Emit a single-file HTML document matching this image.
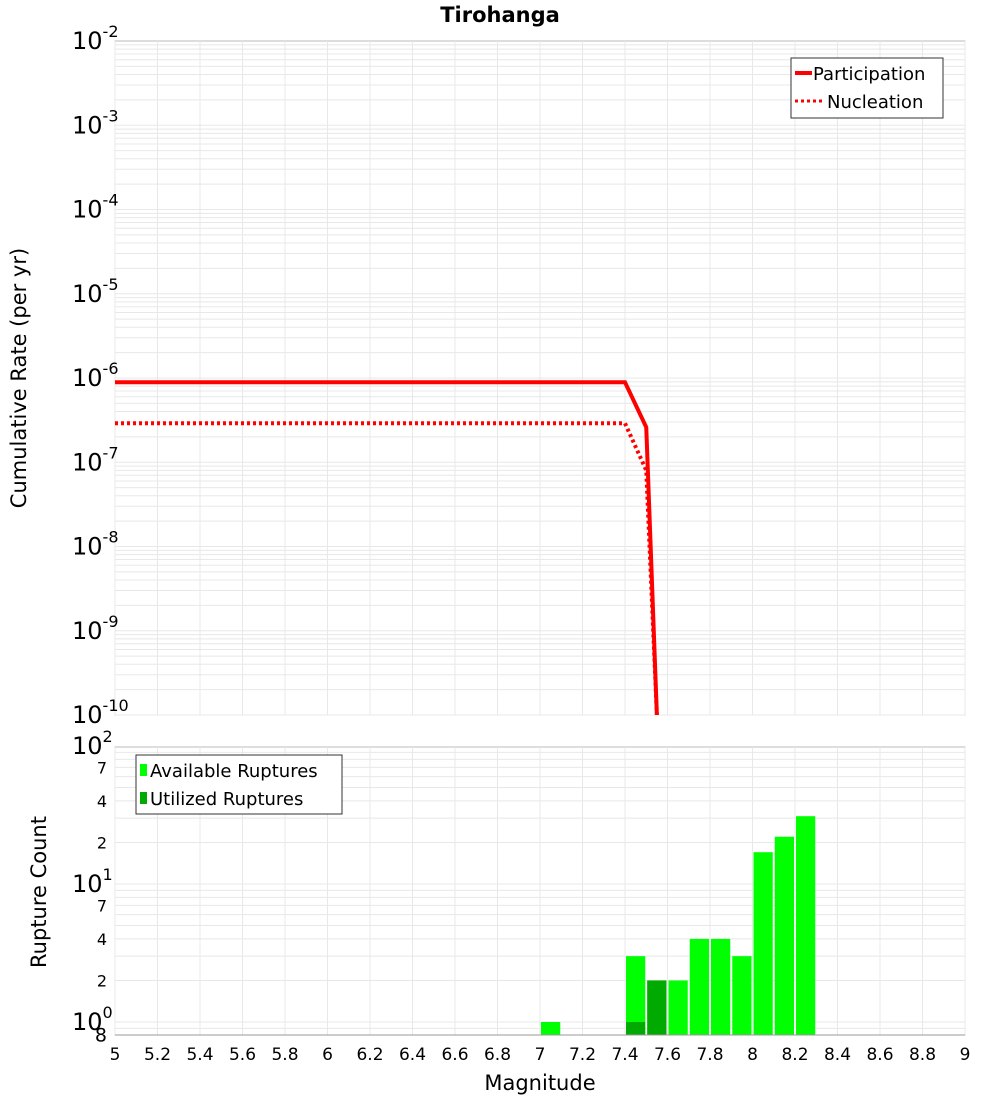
<!DOCTYPE html>
<html><head><meta charset="utf-8"><style>
body{margin:0;background:#fff;font-family:"Liberation Sans","DejaVu Sans",sans-serif}
svg text{font-family:"DejaVu Sans","Liberation Sans",sans-serif}
</style></head><body>
<svg id="c" width="1000" height="1100" xmlns="http://www.w3.org/2000/svg">
<text x="500" y="22" text-anchor="middle" font-size="21" font-weight="bold">Tirohanga</text>
<text transform="translate(26,378) rotate(-90)" text-anchor="middle" font-size="21">Cumulative Rate (per yr)</text>
<text transform="translate(46,892) rotate(-90)" text-anchor="middle" font-size="21">Rupture Count</text>
<text x="540" y="1090" text-anchor="middle" font-size="21">Magnitude</text>
<g id="g"></g>
</svg>
<script>
const partMag=[5,7.4,7.5,7.55];
const partRate=[8.9e-7,8.9e-7,2.6e-7,1e-10];
const nuclMag=[5,7.4,7.5,7.55];
const nuclRate=[2.9e-7,2.9e-7,8e-8,1e-10];
const binMags=[7.05,7.45,7.55,7.65,7.75,7.85,7.95,8.05,8.15,8.25];
const availCounts=[1,3,2,2,4,4,3,17,22,31];
const utilMags=[7.45,7.55];
const utilCounts=[1,2];
const xTicks=[5,5.2,5.4,5.6,5.8,6,6.2,6.4,6.6,6.8,7,7.2,7.4,7.6,7.8,8,8.2,8.4,8.6,8.8,9];

const NS="http://www.w3.org/2000/svg",g=document.getElementById('g');
const L=115,R=965,T1=41,B1=715,T2=747,B2=1035;
const X=m=>L+(m-5)*(R-L)/4;
const Y1=v=>T1+(-2-Math.log10(v))*(B1-T1)/8;
const Y2=v=>1022-Math.log10(v)*138;
function el(t,a,p){const e=document.createElementNS(NS,t);for(const k in a)e.setAttribute(k,a[k]);(p||g).appendChild(e);return e;}
// plot backgrounds
const bg1=el('rect',{x:L,y:T1,width:R-L,height:B1-T1,fill:'#fff',stroke:'#bbb'});


const bg2=el('rect',{x:L,y:T2,width:R-L,height:B2-T2,fill:'#fff',stroke:'#bbb'});


// grids
for(let d=-10;d<-2;d++)for(let k=1;k<10;k++){const y=Y1(k*Math.pow(10,d));el('line',{x1:L,x2:R,y1:y,y2:y,stroke:'#e8e8e8'});}
for(let d=-1;d<2;d++)for(let k=1;k<10;k++){const y=Y2(k*Math.pow(10,d));if(y<T2||y>B2)continue;el('line',{x1:L,x2:R,y1:y,y2:y,stroke:'#e8e8e8'});}
xTicks.forEach(m=>{const x=X(m);el('line',{x1:x,x2:x,y1:T1,y2:B1,stroke:'#e8e8e8'});el('line',{x1:x,x2:x,y1:T2,y2:B2,stroke:'#e8e8e8'});
const t=el('text',{x:x,y:1060,'text-anchor':'middle','font-size':17});t.textContent=String(m);

});
// top y labels
for(let d=-10;d<=-2;d++){const y=Y1(Math.pow(10,d));const t=el('text',{x:72,y:y+8,'font-size':24});t.innerHTML='10<tspan dy="-12" font-size="16">'+d+'</tspan>';

}
// bottom y labels
[[1,'10','0'],[10,'10','1'],[100,'10','2']].forEach(([v,b,e])=>{const t=el('text',{x:72,y:Y2(v)+8,'font-size':24});t.innerHTML=b+'<tspan dy="-12" font-size="16">'+e+'</tspan>';

});
[[0.8,'8'],[2,'2'],[4,'4'],[7,'7'],[20,'2'],[40,'4'],[70,'7']].forEach(([v,s])=>{const t=el('text',{x:107,y:Y2(v)+6,'text-anchor':'end','font-size':v<1?19:16});t.textContent=s;

});
// lines
const clip=el('clipPath',{id:'cp'});el('rect',{x:L,y:T1,width:R-L,height:B1-T1},clip);
const pl=el('polyline',{points:partMag.map((m,i)=>X(m)+','+Y1(partRate[i])).join(' '),fill:'none',stroke:'#f00','stroke-width':4,'clip-path':'url(#cp)'});


const nl=el('polyline',{points:nuclMag.map((m,i)=>X(m)+','+Y1(nuclRate[i])).join(' '),fill:'none',stroke:'#f00','stroke-width':4,'stroke-dasharray':'3,3','clip-path':'url(#cp)'});


// bars
const bw=(X(0.1)-X(0))-2;
binMags.forEach((m,i)=>{const y=Y2(availCounts[i]);const r=el('rect',{x:X(m-0.05)+1,y:y,width:bw,height:B2-y,fill:'#00ff00'});

});
utilMags.forEach((m,i)=>{const y=Y2(utilCounts[i]);const r=el('rect',{x:X(m-0.05)+1,y:y,width:bw,height:B2-y,fill:'#00aa00'});

});
el('line',{x1:L,x2:R,y1:B2,y2:B2,stroke:'#999'});
// legends
const lg1=el('g',{});
el('rect',{x:791,y:58,width:152,height:60,fill:'#fff',stroke:'#333'},lg1);
el('line',{x1:795,x2:812,y1:73,y2:73,stroke:'#f00','stroke-width':4},lg1);
el('line',{x1:795,x2:822,y1:101,y2:101,stroke:'#f00','stroke-width':3,'stroke-dasharray':'3,3'},lg1);
let t=el('text',{x:813,y:80,'font-size':18},lg1);t.textContent='Participation';
t=el('text',{x:827,y:108,'font-size':18},lg1);t.textContent='Nucleation';
const lg2=el('g',{});
el('rect',{x:136,y:755,width:206,height:59,fill:'#fff',stroke:'#333'},lg2);
el('rect',{x:140,y:764,width:7,height:12,fill:'#00ff00'},lg2);
el('rect',{x:140,y:792,width:7,height:12,fill:'#00aa00'},lg2);
t=el('text',{x:150,y:777,'font-size':18},lg2);t.textContent='Available Ruptures';
t=el('text',{x:150,y:805,'font-size':18},lg2);t.textContent='Utilized Ruptures';
</script>
</body></html>
